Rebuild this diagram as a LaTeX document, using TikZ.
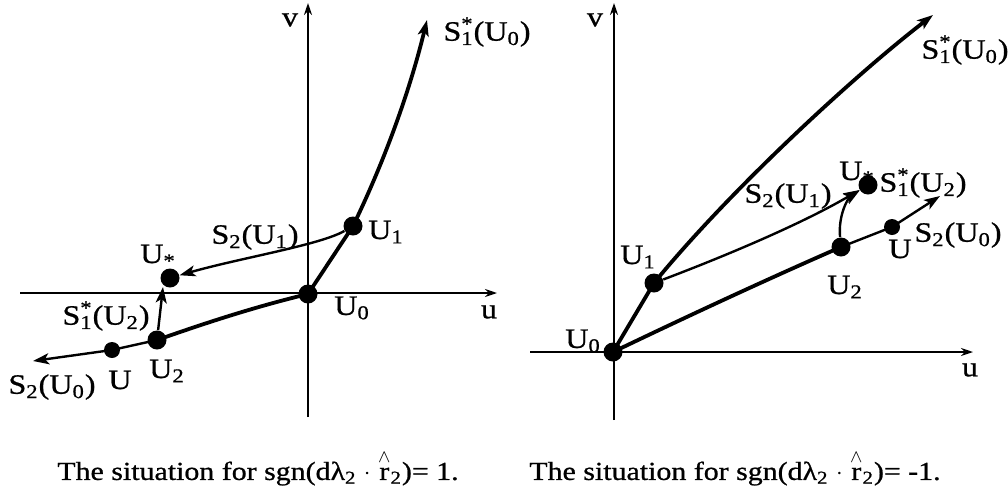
\documentclass[tikz,border=0pt]{standalone}
\usepackage{fontspec}
\setmainfont{Liberation Serif}[FakeStretch=1.15, FakeBold=0.8]
\usepackage{amsmath}
\usetikzlibrary{arrows.meta}
\newcommand{\sstar}[1]{S\rlap{\textsuperscript{*}}\textsubscript{#1}}
\newcommand{\rhat}{\ensuremath{\overset{\wedge}{\text{r}}}}
\begin{document}
\begin{tikzpicture}[
  x=0.5pt, y=-0.5pt,
  axis/.style={line width=0.9pt, -{Stealth[length=6pt, width=4pt]}},
  curve/.style={line width=1.9pt},
  slim/.style={line width=1.2pt},
  tip/.style={-{Stealth[length=8pt, width=5.5pt, inset=2pt]}},
  dot/.style={circle, fill=black, inner sep=0pt, minimum size=9.5pt},
  smalldot/.style={dot, minimum size=8pt},
  lbl/.style={inner sep=0pt, font=\fontsize{14}{16}\selectfont},
  captxt/.style={inner sep=0pt, font=\fontsize{13}{15}\selectfont}
]
\useasboundingbox (0,0) rectangle (1008,499);

\coordinate (uwa) at (20,293);
\coordinate (uea) at (497,293);
\coordinate (vsa) at (308,417);
\coordinate (vna) at (308,3);
\draw[axis] (uwa) -- (uea);
\draw[axis] (vsa) -- (vna);

\node[dot] (u0a) at (308,294) {};
\node[dot] (u1a) at (353,226) {};
\node[dot] (usa) at (170,278) {};
\node[dot] (u2a) at (157,340) {};
\node[smalldot] (ua) at (112,350) {};
\coordinate (s1a) at (427,20);
\coordinate (s2a) at (33,361);
\coordinate (s12a) at (163,287);

\draw[curve, tip] (u0a.center) -- (u1a.center) .. controls (385,160) and (410,90) .. (s1a);
\draw[slim, tip] (u1a) .. controls (320,245) and (240,258) .. (usa);
\draw[curve] (u0a.center) .. controls (250,308) and (200,325) .. (u2a.center);
\draw[slim, tip] (u2a.center) -- (ua.center) -- (s2a);
\draw[slim, tip] (u2a) -- (s12a);

\node[lbl] at (290,20) {v};
\node[lbl] at (489,312) {u};
\node[lbl] at (487,32) {\sstar{1}(U\textsubscript{0})};
\node[lbl] at (352,308) {U\textsubscript{0}};
\node[lbl] at (386,232) {U\textsubscript{1}};
\node[lbl] at (255,237) {S\textsubscript{2}(U\textsubscript{1})};
\node[lbl] at (158,256) {U\textsubscript{*}};
\node[lbl] at (106,316) {\sstar{1}(U\textsubscript{2})};
\node[lbl] at (52,387) {S\textsubscript{2}(U\textsubscript{0})};
\node[lbl] at (120,380) {U};
\node[lbl] at (167,371) {U\textsubscript{2}};

\coordinate (uwb) at (530,352);
\coordinate (ueb) at (973,352);
\coordinate (vsb) at (614,420);
\coordinate (vnb) at (614,3);
\draw[axis] (uwb) -- (ueb);
\draw[axis] (vsb) -- (vnb);

\node[dot] (u0b) at (613,352) {};
\node[dot] (u1b) at (654,283) {};
\node[dot] (usb) at (868,185) {};
\node[dot] (u2b) at (841,247) {};
\node[smalldot] (ub) at (892,227) {};
\coordinate (s1b) at (933,15);
\coordinate (s2b) at (940,196);

\draw[curve, tip] (u0b.center) -- (u1b.center) .. controls (730,190) and (855,75) .. (s1b);
\draw[slim, tip] (u1b) .. controls (720,258) and (800,225) .. (usb);
\draw[curve] (u0b.center) .. controls (690,315) and (770,278) .. (u2b.center);
\draw[slim, tip] (u2b.center) -- (ub.center) -- (s2b);
\draw[slim, tip] (u2b) .. controls (838,215) and (848,198) .. (usb);

\node[lbl] at (595,20) {v};
\node[lbl] at (970,370) {u};
\node[lbl] at (965,50) {\sstar{1}(U\textsubscript{0})};
\node[lbl] at (583,341) {U\textsubscript{0}};
\node[lbl] at (638,257) {U\textsubscript{1}};
\node[lbl] at (788,196) {S\textsubscript{2}(U\textsubscript{1})};
\node[lbl] at (857,173) {U\textsubscript{*}};
\node[lbl] at (923,183) {\sstar{1}(U\textsubscript{2})};
\node[lbl] at (845,287) {U\textsubscript{2}};
\node[lbl] at (900,249) {U};
\node[lbl] at (958,235) {S\textsubscript{2}(U\textsubscript{0})};

\node[captxt] (capa) at (258,468) {The situation for sgn(dλ\textsubscript{2} $\cdot$ \rhat\textsubscript{2})= 1.};
\node[captxt] (capb) at (735,468) {The situation for sgn(dλ\textsubscript{2} $\cdot$ \rhat\textsubscript{2})= -1.};
\end{tikzpicture}
\end{document}
